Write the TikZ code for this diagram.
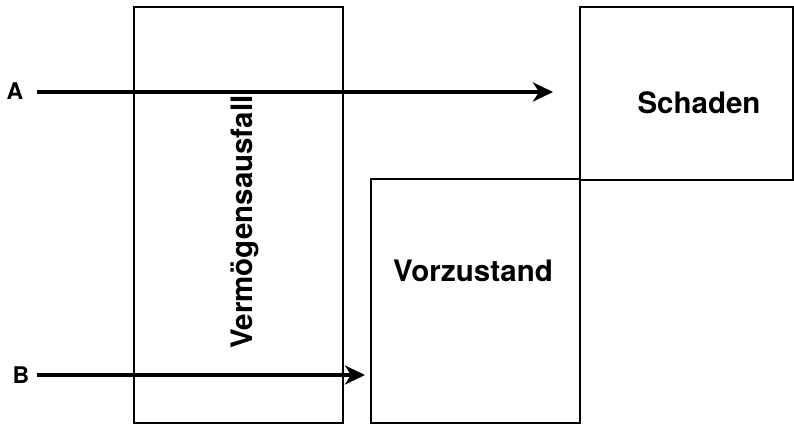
\documentclass[tikz,border=0pt]{standalone}
\usepackage{fontspec}
\setmainfont{TeX Gyre Heros}
\usetikzlibrary{arrows.meta}
\begin{document}
\begin{tikzpicture}[x=1pt,y=1pt,
  frame/.style={draw, line width=1.5pt, inner sep=0pt, outer sep=0pt},
  title/.style={font=\fontsize{29.5}{30}\selectfont\bfseries, inner sep=0pt},
  letter/.style={font=\fontsize{23}{24}\selectfont\bfseries, inner sep=0pt},
  flow/.style={line width=4.6pt, -{Stealth[length=20pt,width=19pt,inset=6pt]}}]
\useasboundingbox (0,0) rectangle (794,425);
\fill[white] (0,0) rectangle (794,425);

% the three areas
\node[frame, minimum width=209, minimum height=416, anchor=north west] (loss) at (134,418) {};
\node[frame, minimum width=209, minimum height=244, anchor=north west] (prior) at (371,246) {};
\node[frame, minimum width=213, minimum height=173, anchor=north west] (damage) at (580,418) {};

% labels of the areas
\node[title, rotate=90] (losstext) at (245,203) {Vermögensausfall};
\node[title] (priortext) at (473,154) {Vorzustand};
\node[title] (damagetext) at (699,322) {Schaden};

% the two courses A and B
\node[letter] (A) at (15,334) {A};
\node[letter] (B) at (21,50) {B};
\coordinate (aend) at (553,333);
\coordinate (bend) at (365,50);
\draw[flow, shorten <=13pt] (A.east |- aend) -- (aend);
\draw[flow, shorten <=7pt] (B.east) -- (bend);
\end{tikzpicture}
\end{document}
